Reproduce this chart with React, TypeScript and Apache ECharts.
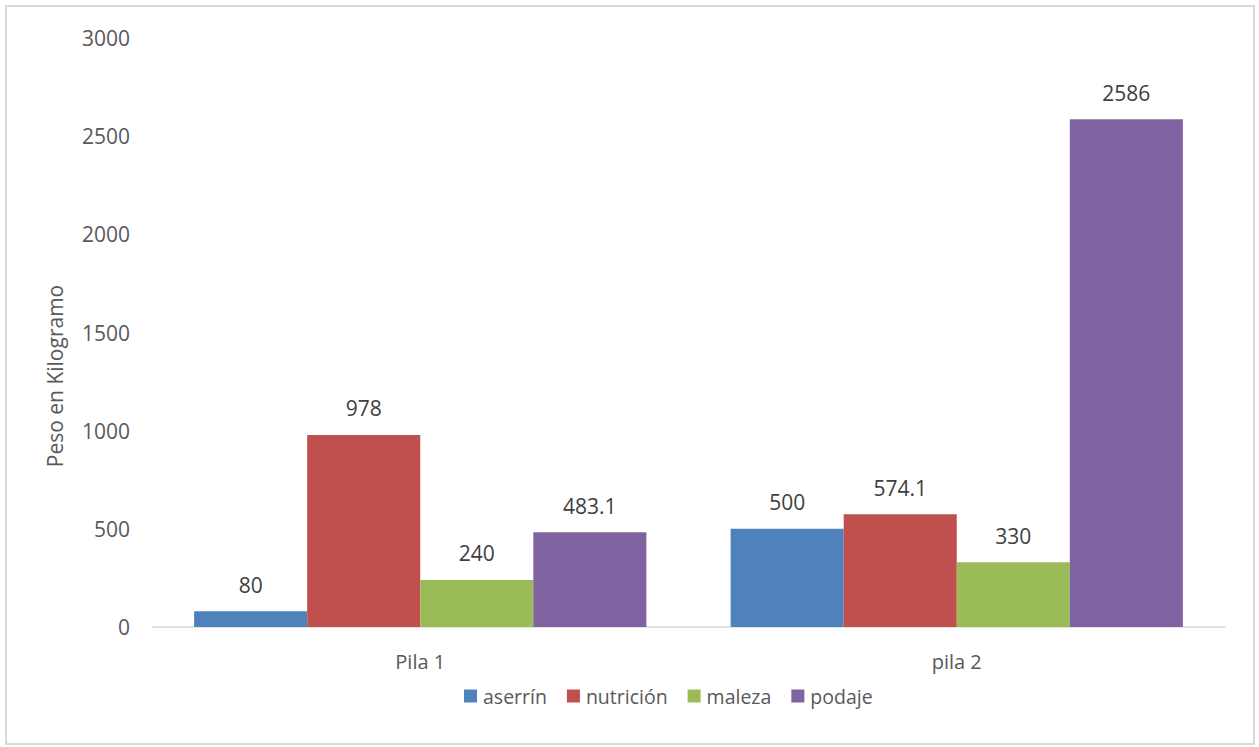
import React, { useEffect, useRef } from "react";
import * as echarts from "echarts";

const categories = ["Pila 1", "pila 2"];
const seriesNames = ["aserrín", "nutrición", "maleza", "podaje"];
const aserrin = [80, 500];
const nutricion = [978, 574.1];
const maleza = [240, 330];
const podaje = [483.1, 2586];
const colors = ["#4f81bd", "#c0504d", "#9bbb59", "#8064a2"];
const yTicks = { min: 0, max: 3000, interval: 500 };
const yName = "Peso en Kilogramo";

const FONT = "'Open Sans', 'Noto Sans', sans-serif";
const TXT = "#595959";

export default function App() {
  const ref = useRef<HTMLDivElement>(null);
  useEffect(() => {
    document.body.style.margin = "0";
    if (!ref.current) return;
    const chart = echarts.init(ref.current, undefined, { renderer: "svg" });
    const values = [aserrin, nutricion, maleza, podaje];
    chart.setOption({
      animation: false,
      backgroundColor: "#ffffff",
      textStyle: { fontFamily: FONT },
      color: colors,
      graphic: [
        {
          type: "rect",
          shape: { x: 6, y: 6, width: 1248, height: 738 },
          style: { fill: "none", stroke: "#d9d9d9", lineWidth: 2 },
          silent: true,
        },
        {
          type: "text",
          x: 55,
          y: 376,
          rotation: Math.PI / 2,
          style: {
            text: yName,
            fill: TXT,
            fontSize: 21,
            fontFamily: FONT,
            align: "center",
            verticalAlign: "middle",
          },
          silent: true,
        },
      ],
      grid: { left: 152, right: 34, top: 38, bottom: 120, containLabel: false },
      legend: {
        data: seriesNames,
        top: 686,
        left: 464,
        padding: 0,
        icon: "rect",
        itemWidth: 13,
        itemHeight: 13,
        itemGap: 20,
        textStyle: { color: TXT, fontSize: 19.5, fontFamily: FONT, padding: [0, 0, 0, 1] },
      },
      xAxis: {
        type: "category",
        data: categories,
        axisLine: { show: true, lineStyle: { color: "#d9d9d9", width: 1.5 } },
        axisTick: { show: false },
        axisLabel: { color: TXT, fontSize: 20, fontFamily: FONT, margin: 24 },
      },
      yAxis: {
        type: "value",
        min: yTicks.min,
        max: yTicks.max,
        interval: yTicks.interval,
        axisLine: { show: false },
        axisTick: { show: false },
        splitLine: { show: false },
        axisLabel: {
          color: TXT,
          fontSize: 21,
          fontFamily: FONT,
          margin: 22,
          formatter: (v: number) => String(v),
        },
      },
      series: seriesNames.map((name, i) => ({
        name,
        type: "bar",
        data: values[i],
        barGap: "0%",
        barCategoryGap: "15.7%",
        itemStyle: { color: colors[i] },
        label: {
          show: true,
          position: "top",
          distance: 16,
          color: "#404040",
          fontSize: 21,
          fontFamily: FONT,
          formatter: (p: any) => String(p.value),
        },
      })),
    });
    return () => chart.dispose();
  }, []);
  return <div ref={ref} style={{ width: 1259, height: 747 }} />;
}
